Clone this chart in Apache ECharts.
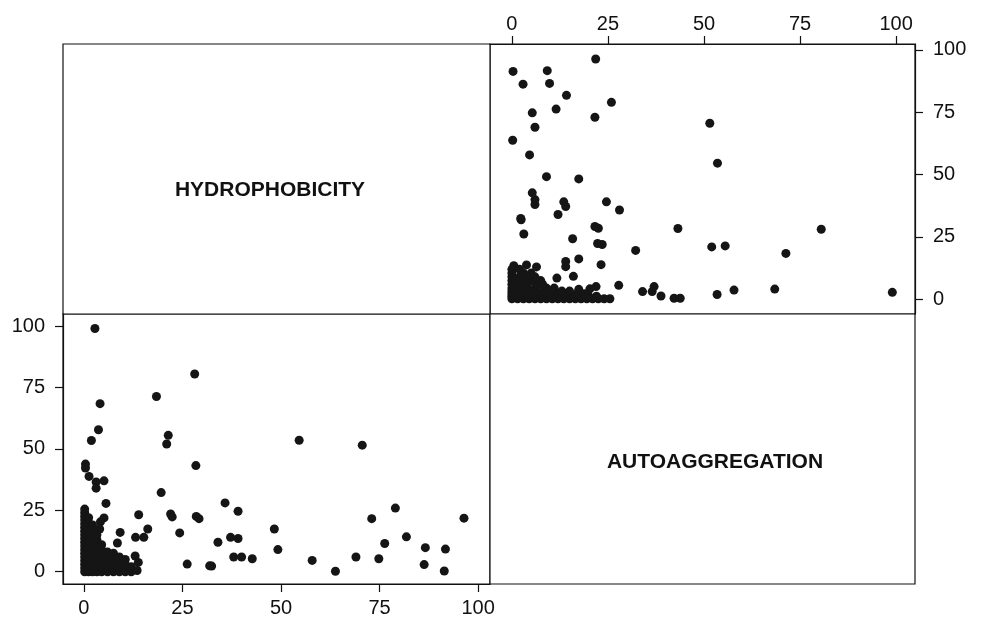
<!DOCTYPE html>
<html>
<head>
<meta charset="utf-8">
<script src="https://cdn.jsdelivr.net/npm/echarts@6/dist/echarts.min.js"></script>
<style>
html, body { margin: 0; padding: 0; background: #fff; }
#chart { width: 981px; height: 617px; }
</style>
</head>
<body>
<div id="chart"></div>
<script>
// one entry per strain
var hydrophobicity = [
  2.8, 28.1, 18.4, 4.1, 3.7, 1.9, 21.4, 21.0, 54.6, 70.6,
  0.4, 0.4, 1.3, 3.1, 5.1, 3.1, 28.4, 19.6, 5.6, 13.9,
  22.0, 22.4, 28.5, 29.2, 24.3, 16.2, 15.2, 13.1, 9.2, 26.2,
  31.9, 35.8, 39.1, 48.3, 34.0, 37.2, 39.1, 49.2, 38.0, 40.0,
  42.7, 57.9, 63.8, 32.4, 79.0, 73.0, 96.4, 81.8, 76.3, 86.6,
  91.7, 69.0, 74.8, 86.3, 91.4, 5.1, 4.2, 4.0, 8.5, 13.0,
  13.8,
  0.2, 0.2, 0.2, 0.2, 0.2, 0.2, 0.2, 0.2, 0.2, 0.2, 0.2, 0.2, 0.2, 0.2, 0.2, 0.2, 0.2, 0.2,
  1.2, 1.2, 1.2, 1.2, 1.2, 1.2, 1.2, 1.2, 1.2, 1.2, 1.2, 1.2,
  2.2, 2.2, 2.2, 2.2, 2.2, 2.2, 2.2, 2.2, 2.2, 2.2,
  3.3, 3.3, 3.3, 3.3, 3.3, 3.3, 3.3, 3.3,
  4.5, 4.5, 4.5, 4.5, 4.5, 4.5,
  6.0, 6.0, 6.0, 6.0, 6.0,
  7.5, 7.5, 7.5, 7.5, 7.5,
  9.0, 9.0, 9.0, 9.0,
  10.5, 10.5, 10.5,
  12.0, 12.0,
  13.5
];
var autoaggregation = [
  99.0, 80.5, 71.3, 68.4, 57.8, 53.4, 55.5, 52.0, 53.5, 51.5,
  43.8, 42.2, 38.8, 36.5, 37.0, 34.0, 43.2, 32.2, 27.8, 23.2,
  23.5, 22.3, 22.5, 21.6, 15.8, 17.4, 14.0, 14.0, 16.0, 3.1,
  2.4, 28.0, 24.6, 17.4, 12.0, 14.0, 13.5, 9.0, 6.0, 6.0,
  5.3, 4.6, 0.2, 2.3, 25.9, 21.6, 21.8, 14.2, 11.5, 9.8,
  9.2, 6.0, 5.3, 2.9, 0.3, 21.9, 20.3, 17.4, 11.7, 6.4,
  3.8,
  0, 1.5, 3, 4.5, 6, 7.5, 9, 10.5, 12, 13.5, 15, 16.5, 18, 19.5, 21, 22.5, 24, 25.5,
  0, 2, 4, 6, 8, 10, 12, 14, 16, 18, 20, 22,
  0, 2, 4, 6, 8, 10, 12, 14, 17, 19,
  0, 2, 4, 6, 8, 10, 13, 15,
  0, 2, 4, 6, 9, 11,
  0, 2, 4, 6.5, 8,
  0, 1.5, 3, 5, 7.5,
  0, 2, 4, 6,
  0, 3, 5,
  0, 2,
  0.5
];
var tickValues = [0, 25, 50, 75, 100];
var varNames = ['HYDROPHOBICITY', 'AUTOAGGREGATION'];

var topRight = [];
var bottomLeft = [];
for (var i = 0; i < hydrophobicity.length; i++) {
  topRight.push([autoaggregation[i], hydrophobicity[i]]);
  bottomLeft.push([hydrophobicity[i], autoaggregation[i]]);
}

var font = 'Liberation Sans, Arial, Helvetica, sans-serif';

function panel(left, top, width, height) {
  return {
    left: left, top: top, width: width, height: height,
    show: true, borderColor: '#111', borderWidth: 1.2,
    backgroundColor: '#fff', outerBoundsMode: 'none'
  };
}

function axis(gridIndex, position, min, max, shown, margin) {
  return {
    type: 'value',
    gridIndex: gridIndex,
    position: position,
    min: min,
    max: max,
    show: shown,
    splitLine: { show: false },
    axisLine: { show: true, onZero: false, lineStyle: { color: '#111', width: 1.2 } },
    axisTick: { show: true, inside: false, length: 8, customValues: tickValues,
      lineStyle: { color: '#111', width: 1.2 } },
    axisLabel: { show: true, customValues: tickValues, margin: margin,
      color: '#111', fontSize: 20, fontFamily: font }
  };
}

var myEcharts = echarts.init(document.getElementById('chart'));
var option = {
  animation: false,
  backgroundColor: '#fff',
  grid: [
    panel(490, 44, 425, 270),
    panel(63, 314, 427, 270),
    panel(63, 44, 427, 270),
    panel(490, 314, 425, 270)
  ],
  xAxis: [
    axis(0, 'top', -5.7, 104.9, true, 10),
    axis(1, 'bottom', -5.3, 103.0, true, 14),
    axis(2, 'bottom', 0, 100, false, 0),
    axis(3, 'bottom', 0, 100, false, 0)
  ],
  yAxis: [
    axis(0, 'right', -5.9, 102.4, true, 18),
    axis(1, 'left', -5.0, 104.9, true, 18),
    axis(2, 'left', 0, 100, false, 0),
    axis(3, 'left', 0, 100, false, 0)
  ],
  graphic: [
    { type: 'text', x: 270, y: 190,
      style: { text: varNames[0], x: 0, y: 0, textAlign: 'center', textVerticalAlign: 'middle',
        fill: '#111', font: 'bold 21px ' + font } },
    { type: 'text', x: 715, y: 462,
      style: { text: varNames[1], x: 0, y: 0, textAlign: 'center', textVerticalAlign: 'middle',
        fill: '#111', font: 'bold 21px ' + font } }
  ],
  series: [
    {
      type: 'scatter', xAxisIndex: 0, yAxisIndex: 0,
      data: topRight, symbolSize: 9,
      itemStyle: { color: '#151515', opacity: 1 }
    },
    {
      type: 'scatter', xAxisIndex: 1, yAxisIndex: 1,
      data: bottomLeft, symbolSize: 9,
      itemStyle: { color: '#151515', opacity: 1 }
    }
  ]
};
myEcharts.setOption(option);
</script>
</body>
</html>
